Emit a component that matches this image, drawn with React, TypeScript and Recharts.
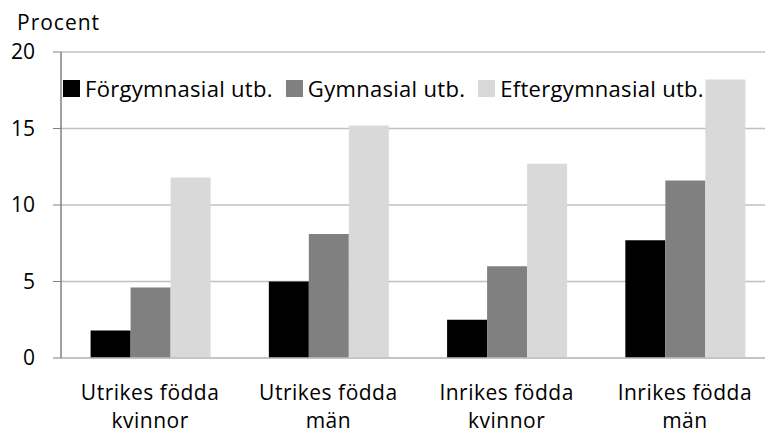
import { Bar, BarChart, CartesianGrid, XAxis, YAxis } from "recharts"

const categories = [
  ["Utrikes födda", "kvinnor"],
  ["Utrikes födda", "män"],
  ["Inrikes födda", "kvinnor"],
  ["Inrikes födda", "män"],
]
const forgymnasial = [1.8, 5.0, 2.5, 7.7]
const gymnasial = [4.6, 8.1, 6.0, 11.6]
const eftergymnasial = [11.8, 15.2, 12.7, 18.2]
const yTicks = [0, 5, 10, 15, 20]

const series = [
  { key: "forg", name: "Förgymnasial utb.", color: "#000000" },
  { key: "gymn", name: "Gymnasial utb.", color: "#808080" },
  { key: "efter", name: "Eftergymnasial utb.", color: "#d9d9d9" },
]

const data = categories.map((c, i) => ({
  label: c.join("|"),
  forg: forgymnasial[i],
  gymn: gymnasial[i],
  efter: eftergymnasial[i],
}))

const font = "'Open Sans', sans-serif"

function CategoryTick({ x, y, payload }: any) {
  const lines = String(payload.value).split("|")
  return (
    <text x={x} y={y} textAnchor="middle" fontFamily={font} fontSize={21} letterSpacing={0.5} fill="#000">
      {lines.map((l, i) => (
        <tspan key={i} x={x} dy={i === 0 ? 34 : 28}>
          {l}
        </tspan>
      ))}
    </text>
  )
}

function ChartLegend() {
  return (
    <div
      style={{
        position: "absolute",
        left: 63,
        top: 73,
        height: 30,
        display: "flex",
        alignItems: "center",
        fontFamily: font,
        fontSize: 22,
        letterSpacing: 0.3,
        whiteSpace: "nowrap",
      }}
    >
      {series.map((s) => (
        <div key={s.key} style={{ display: "flex", alignItems: "center", marginRight: 13 }}>
          <span style={{ width: 17, height: 17, background: s.color, display: "inline-block", marginRight: 5 }} />
          <span>{s.name}</span>
        </div>
      ))}
    </div>
  )
}

export default function App() {
  return (
    <div style={{ position: "absolute", left: 0, top: 0, width: 765, height: 434, overflow: "hidden", background: "#fff" }}>
      <div style={{ position: "absolute", left: 17, top: 8, fontFamily: font, fontSize: 21, letterSpacing: 1 }}>Procent</div>
      <BarChart
        width={774}
        height={434}
        data={data}
        margin={{ top: 52, right: 0, left: 0, bottom: 46 }}
        barCategoryGap="16.6%"
        barGap={0}
      >
        <CartesianGrid vertical={false} stroke="#c0c0c0" strokeWidth={1.5} />
        <XAxis
          dataKey="label"
          tick={<CategoryTick />}
          tickLine={false}
          axisLine={{ stroke: "#c0c0c0", strokeWidth: 1.5 }}
          interval={0}
        />
        <YAxis
          width={61}
          domain={[0, 20]}
          ticks={yTicks}
          tickSize={8}
          tickMargin={18}
          tickLine={{ stroke: "#808080" }}
          axisLine={{ stroke: "#808080", strokeWidth: 1.5 }}
          tick={{ fontFamily: font, fontSize: 21, fill: "#000" }}
        />
        {series.map((s) => (
          <Bar key={s.key} dataKey={s.key} name={s.name} fill={s.color} isAnimationActive={false} />
        ))}
      </BarChart>
      <ChartLegend />
    </div>
  )
}
